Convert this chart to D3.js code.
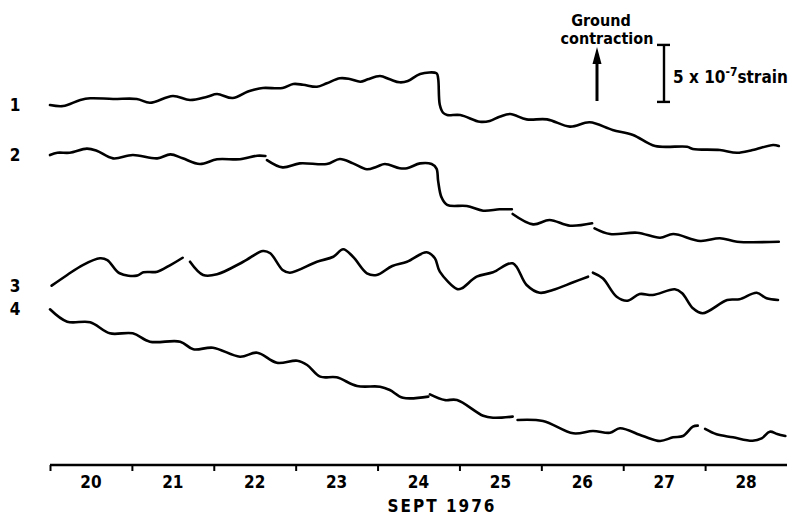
<!DOCTYPE html>
<html>
<head>
<meta charset="utf-8">
<script src="https://cdn.jsdelivr.net/npm/d3@7"></script>
<style>
  body { margin: 0; background: #fff; }
  svg { display: block; }
  text { font-family: "DejaVu Sans Condensed", "DejaVu Sans", sans-serif; font-weight: bold; fill: #000; }
</style>
</head>
<body>
<div id="chart"></div>
<script>
// strain records, x = day of Sept 1976, y = strain in units of 1e-7 (arbitrary offset)
// null marks a break in the pen trace
const days = [20, 21, 22, 23, 24, 25, 26, 27, 28];
const traceNames = ["1", "2", "3", "4"];

const trace1 = [
  [20.00,31.58],[20.16,31.49],[20.37,32.02],[20.49,32.17],[20.77,32.11],[21.06,32.11],
  [21.22,31.78],[21.50,32.37],[21.71,32.02],[21.92,32.31],[22.04,32.54],[22.23,32.19],
  [22.41,32.75],[22.48,32.89],[22.60,33.07],[22.84,33.07],[22.97,33.42],[23.09,33.36],
  [23.26,33.18],[23.38,33.48],[23.54,33.92],[23.66,33.86],[23.79,33.62],[23.88,33.83],
  [24.03,34.12],[24.15,33.83],[24.27,33.57],[24.37,33.68],[24.52,34.30],[24.72,34.36],
  [24.74,33.9],[24.76,31.6],[24.80,30.9],[24.85,30.70],[25.01,30.70],[25.25,30.11],
  [25.37,30.18],[25.49,30.55],[25.62,30.79],[25.82,30.32],[26.07,30.32],[26.35,29.68],
  [26.59,30.06],[26.87,29.39],[27.12,28.95],[27.39,27.98],[27.78,27.92],[27.85,27.72],
  [28.18,27.63],[28.39,27.39],[28.58,27.63],[28.83,28.07],[28.90,27.98]
];

const trace2 = [
  [20.00,27.19],[20.09,27.39],[20.24,27.39],[20.45,27.75],[20.57,27.57],[20.77,26.90],
  [21.01,27.19],[21.31,26.90],[21.47,27.25],[21.62,26.90],[21.83,26.40],[22.04,26.82],
  [22.32,26.82],[22.53,27.13],[22.63,27.11],
  null,
  [22.65,26.75],[22.84,26.11],[23.05,26.46],[23.38,26.40],[23.54,26.84],[23.70,26.46],
  [23.87,25.94],[23.99,26.17],[24.09,26.40],[24.27,26.03],[24.36,26.03],[24.52,26.46],
  [24.66,26.40],[24.72,26.0],[24.74,24.9],[24.78,23.5],[24.85,22.81],[25.09,22.72],
  [25.29,22.31],[25.49,22.43],[25.64,22.43],
  null,
  [25.65,22.02],[25.90,21.11],[26.10,21.49],[26.35,20.99],[26.62,21.20],
  null,
  [26.65,20.76],[26.84,20.26],[27.17,20.38],[27.45,19.94],[27.61,20.26],[27.94,19.65],
  [28.18,19.89],[28.39,19.59],[28.90,19.59]
];

const trace3 = [
  [20.02,15.73],[20.21,16.67],[20.40,17.54],[20.61,18.13],[20.70,17.98],[20.85,16.82],
  [21.06,16.61],[21.14,16.90],[21.31,16.96],[21.47,17.54],[21.62,18.18],
  null,
  [21.71,17.83],[21.87,16.67],[22.04,16.73],[22.36,17.83],[22.60,18.77],[22.69,18.57],
  [22.84,17.11],[22.93,16.87],[23.26,17.83],[23.46,18.27],[23.58,18.92],[23.70,18.27],
  [23.87,16.82],[23.99,16.67],[24.18,17.46],[24.36,17.83],[24.60,18.66],[24.70,18.13],
  [24.76,16.96],[24.97,15.44],[25.03,15.50],[25.21,16.52],[25.41,16.90],[25.65,17.69],
  [25.82,15.79],[25.98,15.11],[26.14,15.35],[26.39,16.03],[26.57,16.52],
  null,
  [26.63,16.87],[26.75,16.38],[26.92,14.76],[27.05,14.41],[27.20,15.00],[27.36,14.91],
  [27.63,15.41],[27.72,15.06],[27.85,13.75],[27.97,13.31],[28.27,14.47],[28.42,14.54],
  [28.63,15.11],[28.75,14.62],[28.89,14.47]
];

const trace4 = [
  [20.00,13.66],[20.21,12.57],[20.49,12.52],[20.73,11.55],[21.01,11.55],[21.22,10.82],
  [21.59,10.82],[21.75,10.15],[21.99,10.29],[22.32,9.50],[22.53,9.85],[22.77,8.97],
  [23.02,9.15],[23.14,8.77],[23.30,7.75],[23.50,7.69],[23.75,6.93],[24.03,6.87],
  [24.15,6.58],[24.31,5.90],[24.62,6.00],
  null,
  [24.64,6.20],[24.82,5.70],[24.97,5.70],[25.29,4.32],[25.41,4.15],[25.65,4.24],
  null,
  [25.71,3.95],[26.02,3.86],[26.39,2.78],[26.63,2.98],[26.84,2.83],[26.96,3.22],
  [27.24,2.54],[27.45,2.11],[27.61,2.43],[27.73,2.54],[27.85,3.36],[27.91,3.45],
  null,
  [28.00,3.16],[28.14,2.69],[28.34,2.43],[28.58,2.13],[28.69,2.34],[28.79,2.92],
  [28.88,2.72],[28.98,2.54]
];

const traces = [trace1, trace2, trace3, trace4];
const scaleBarStrain = 5; // 5 x 10^-7 strain

const width = 792, height = 515;
const svg = d3.select("#chart").append("svg")
  .attr("width", width)
  .attr("height", height);

const x = d3.scaleLinear().domain([20, 29]).range([50, 787]);
const y = d3.scaleLinear().domain([0, 40.79]).range([465, 0]);

// traces
const line = d3.line()
  .defined(d => d !== null)
  .x(d => x(d[0]))
  .y(d => y(d[1]))
  .curve(d3.curveCatmullRom.alpha(0.5));

svg.append("g")
  .selectAll("path")
  .data(traces)
  .enter().append("path")
  .attr("d", line)
  .attr("fill", "none")
  .attr("stroke", "#000")
  .attr("stroke-width", 2.6)
  .attr("stroke-linejoin", "round")
  .attr("stroke-linecap", "round");

// trace numbers, placed next to the start of each trace
svg.append("g")
  .selectAll("text")
  .data(traces)
  .enter().append("text")
  .attr("x", 15)
  .attr("y", d => y(d[0][1]) + 6)
  .attr("text-anchor", "middle")
  .attr("font-size", 17)
  .text((d, i) => traceNames[i]);

// time axis
const axis = d3.axisBottom(x)
  .tickValues(d3.range(20, 29))
  .tickSize(6)
  .tickFormat("");
const gAxis = svg.append("g")
  .attr("transform", "translate(0,465)")
  .call(axis);
gAxis.select(".domain").attr("stroke", "#000").attr("stroke-width", 2.4).attr("d", "M50,0H787");
gAxis.selectAll(".tick line").attr("stroke", "#000").attr("stroke-width", 2);

svg.append("g")
  .selectAll("text")
  .data(days)
  .enter().append("text")
  .attr("x", d => x(d + 0.5))
  .attr("y", 488)
  .attr("text-anchor", "middle")
  .attr("font-size", 17)
  .text(d => d);

svg.append("text")
  .attr("x", 442)
  .attr("y", 512)
  .attr("text-anchor", "middle")
  .attr("font-size", 17)
  .attr("letter-spacing", 2)
  .text("SEPT 1976");

// ground contraction arrow
svg.append("line")
  .attr("x1", 597).attr("y1", 101)
  .attr("x2", 597).attr("y2", 60)
  .attr("stroke", "#000")
  .attr("stroke-width", 3);
svg.append("path")
  .attr("d", "M592.5,64L597,47L601.5,64Z")
  .attr("fill", "#000");

svg.append("text").attr("x", 601).attr("y", 26)
  .attr("text-anchor", "middle").attr("font-size", 16).text("Ground");
svg.append("text").attr("x", 607).attr("y", 44)
  .attr("text-anchor", "middle").attr("font-size", 16).text("contraction");

// strain scale bar
const barBottom = 31.85;
const gBar = svg.append("g").attr("stroke", "#000").attr("stroke-width", 2.4);
gBar.append("line").attr("x1", 664).attr("x2", 664)
  .attr("y1", y(barBottom)).attr("y2", y(barBottom + scaleBarStrain));
gBar.append("line").attr("x1", 657).attr("x2", 670)
  .attr("y1", y(barBottom)).attr("y2", y(barBottom));
gBar.append("line").attr("x1", 657).attr("x2", 670)
  .attr("y1", y(barBottom + scaleBarStrain)).attr("y2", y(barBottom + scaleBarStrain));

const lbl = svg.append("text").attr("x", 673).attr("y", 83).attr("font-size", 17);
lbl.append("tspan").text("5 x 10");
lbl.append("tspan").attr("font-size", 12).attr("dy", -7).text("-7");
lbl.append("tspan").attr("dy", 7).text("strain");
</script>
</body>
</html>
